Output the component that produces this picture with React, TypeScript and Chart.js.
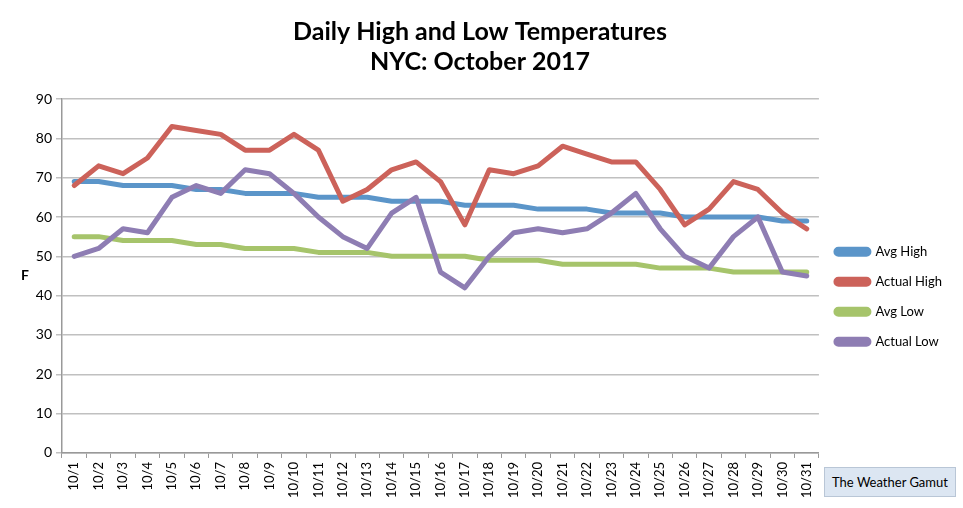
import React, { useEffect, useRef } from "react";
import Chart from "chart.js/auto";

const days = [
  "10/1", "10/2", "10/3", "10/4", "10/5", "10/6", "10/7", "10/8", "10/9", "10/10",
  "10/11", "10/12", "10/13", "10/14", "10/15", "10/16", "10/17", "10/18", "10/19", "10/20",
  "10/21", "10/22", "10/23", "10/24", "10/25", "10/26", "10/27", "10/28", "10/29", "10/30", "10/31",
];

const avgHigh = [69, 69, 68, 68, 68, 67, 67, 66, 66, 66, 65, 65, 65, 64, 64, 64, 63, 63, 63, 62, 62, 62, 61, 61, 61, 60, 60, 60, 60, 59, 59];
const actualHigh = [68, 73, 71, 75, 83, 82, 81, 77, 77, 81, 77, 64, 67, 72, 74, 69, 58, 72, 71, 73, 78, 76, 74, 74, 67, 58, 62, 69, 67, 61, 57];
const avgLow = [55, 55, 54, 54, 54, 53, 53, 52, 52, 52, 51, 51, 51, 50, 50, 50, 50, 49, 49, 49, 48, 48, 48, 48, 47, 47, 47, 46, 46, 46, 46];
const actualLow = [50, 52, 57, 56, 65, 68, 66, 72, 71, 66, 60, 55, 52, 61, 65, 46, 42, 50, 56, 57, 56, 57, 61, 66, 57, 50, 47, 55, 60, 46, 45];

const FONT = "Lato, 'Open Sans', sans-serif";

// draws the horizontal "F" to the left of the y axis
const unitLabel = {
  id: "unitLabel",
  afterDraw(chart: Chart) {
    const { ctx, chartArea } = chart;
    ctx.save();
    ctx.font = `bold 14px ${FONT}`;
    ctx.fillStyle = "#000";
    ctx.textAlign = "center";
    ctx.textBaseline = "middle";
    ctx.fillText("F", 25, (chartArea.top + chartArea.bottom) / 2);
    ctx.restore();
  },
};

const App = () => {
  const chartRef = useRef<HTMLCanvasElement | null>(null);

  useEffect(() => {
    if (!chartRef.current) return;
    const ctx = chartRef.current.getContext("2d");
    if (!ctx) return;

    // later series are drawn on top, like the original
    const line = (label: string, data: number[], color: string, order: number) => ({
      label,
      data,
      order,
      borderColor: color,
      backgroundColor: color,
      borderWidth: 5,
      pointRadius: 0,
      tension: 0,
      borderJoinStyle: "round" as const,
      borderCapStyle: "round" as const,
    });

    const chart = new Chart(ctx, {
      type: "line",
      data: {
        labels: days,
        datasets: [
          line("Avg High", avgHigh, "#5b95c9", 4),
          line("Actual High", actualHigh, "#cc625a", 3),
          line("Avg Low", avgLow, "#a6c46b", 2),
          line("Actual Low", actualLow, "#8e7db3", 1),
        ],
      },
      options: {
        animation: false,
        responsive: true,
        maintainAspectRatio: false,
        layout: { padding: { left: 8, right: 11, bottom: 6, top: 0 } },
        plugins: {
          title: {
            display: true,
            text: ["Daily High and Low Temperatures", "NYC: October 2017"],
            color: "#000",
            font: { family: FONT, size: 25, weight: "bold", lineHeight: 1.2 },
            padding: { top: 17, bottom: 22 },
          },
          legend: {
            position: "right",
            align: "start",
            title: {
              display: true,
              text: " ",
              font: { size: 1 },
              padding: { top: 227, bottom: 0 },
            },
            labels: {
              color: "#000",
              font: { family: FONT, size: 13 },
              boxWidth: 33,
              boxHeight: 5,
              useBorderRadius: true,
              borderRadius: 2.5,
              padding: 17,
              sort: (a, b) => (a.datasetIndex ?? 0) - (b.datasetIndex ?? 0),
            },
          },
          tooltip: { enabled: false },
        },
        scales: {
          x: {
            offset: true,
            grid: {
              display: true,
              drawOnChartArea: false,
              offset: true,
              tickLength: 5,
              color: "#999",
            },
            border: { color: "#999", width: 1.5 },
            ticks: {
              color: "#000",
              font: { family: FONT, size: 13 },
              minRotation: 90,
              maxRotation: 90,
              autoSkip: false,
              padding: 4,
            },
          },
          y: {
            min: 0,
            max: 90,
            afterFit(scale) {
              scale.width = 54;
            },
            grid: { color: "#c0c0c0", lineWidth: 1.5, tickLength: 6 },
            border: { color: "#999", width: 1.5 },
            ticks: {
              stepSize: 10,
              color: "#000",
              font: { family: FONT, size: 14 },
              padding: 4,
            },
          },
        },
      },
      plugins: [unitLabel],
    });

    return () => {
      chart.destroy();
    };
  }, []);

  return (
    <div style={{ position: "absolute", left: 0, top: 0, width: 963, height: 508, background: "#fff" }}>
      <canvas ref={chartRef} />
      <div
        style={{
          position: "absolute",
          left: 824,
          top: 467,
          width: 132,
          height: 30,
          boxSizing: "border-box",
          background: "#dce6f2",
          border: "1px solid #b9c6d6",
          fontFamily: FONT,
          fontSize: 13,
          color: "#000",
          display: "flex",
          alignItems: "center",
          justifyContent: "center",
        }}
      >
        The Weather Gamut
      </div>
    </div>
  );
};

export default App;
